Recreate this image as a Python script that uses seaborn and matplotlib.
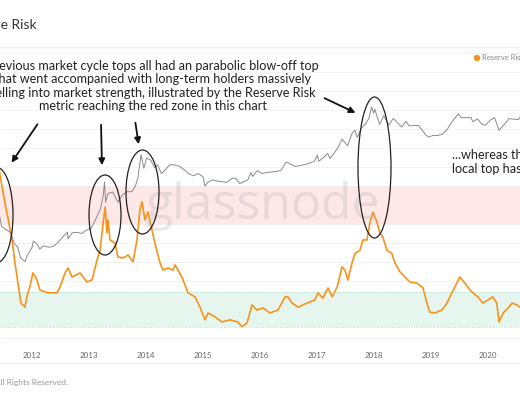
import pandas as pd
import matplotlib
matplotlib.use("Agg")
import matplotlib.pyplot as plt
import seaborn as sns
from matplotlib.patches import Ellipse
from matplotlib.lines import Line2D
import matplotlib.dates as mdates

# BTC price (USD), rough semi-monthly readings
price_dates = [
    "2011-06-08", "2011-06-20", "2011-07-15", "2011-08-01", "2011-08-20", "2011-09-10",
    "2011-10-01", "2011-10-20", "2011-11-18", "2011-12-01", "2011-12-31", "2012-01-10",
    "2012-02-01", "2012-02-20", "2012-03-15", "2012-04-15", "2012-05-15", "2012-06-15",
    "2012-07-15", "2012-08-15", "2012-08-20", "2012-09-15", "2012-10-15", "2012-11-15",
    "2012-12-15", "2013-01-15", "2013-02-15", "2013-03-15", "2013-04-01", "2013-04-10",
    "2013-04-17", "2013-05-01", "2013-06-01", "2013-07-05", "2013-08-01", "2013-09-01",
    "2013-10-01", "2013-10-25", "2013-11-10", "2013-11-30", "2013-12-18", "2014-01-05",
    "2014-02-01", "2014-02-25", "2014-03-15", "2014-04-10", "2014-05-01", "2014-06-01",
    "2014-07-01", "2014-08-01", "2014-09-01", "2014-10-01", "2014-11-01", "2014-12-01",
    "2015-01-01", "2015-01-14", "2015-02-01", "2015-03-01", "2015-04-01", "2015-05-01",
    "2015-06-01", "2015-07-10", "2015-08-01", "2015-08-24", "2015-09-15", "2015-10-15",
    "2015-11-04", "2015-11-15", "2015-12-15", "2016-01-15", "2016-02-15", "2016-03-15",
    "2016-04-15", "2016-05-15", "2016-06-17", "2016-07-15", "2016-08-15", "2016-09-15",
    "2016-10-15", "2016-11-15", "2016-12-15", "2017-01-04", "2017-01-12", "2017-02-15",
    "2017-03-10", "2017-03-25", "2017-04-15", "2017-05-15", "2017-06-10", "2017-07-15",
    "2017-08-15", "2017-09-01", "2017-09-15", "2017-10-15", "2017-11-10", "2017-11-30",
    "2017-12-17", "2017-12-30", "2018-01-06", "2018-02-06", "2018-03-05", "2018-04-06",
    "2018-05-05", "2018-06-28", "2018-07-25", "2018-08-15", "2018-09-15", "2018-10-15",
    "2018-11-25", "2018-12-15", "2019-01-15", "2019-02-15", "2019-03-15", "2019-04-15",
    "2019-05-15", "2019-06-26", "2019-07-15", "2019-08-15", "2019-09-15", "2019-09-26",
    "2019-10-26", "2019-11-25", "2019-12-17", "2020-01-15", "2020-02-13", "2020-03-12",
    "2020-04-15", "2020-05-15", "2020-06-15", "2020-07-15", "2020-07-31",
]
price_usd = [
    30, 17, 14, 13, 11, 6,
    5, 2.6, 2.1, 3, 4.7, 7,
    6, 4.4, 5.3, 4.9, 5.1, 6.4,
    8.8, 12, 8, 11.5, 11.8, 11,
    13.4, 15, 27, 47, 100, 230,
    70, 115, 128, 70, 105, 130,
    130, 180, 300, 1150, 520, 950,
    830, 540, 630, 380, 450, 640,
    630, 590, 480, 380, 330, 380,
    315, 180, 225, 260, 245, 235,
    225, 290, 280, 210, 230, 260,
    400, 320, 450, 380, 405, 415,
    430, 455, 750, 660, 575, 610,
    640, 710, 780, 1130, 780, 1000,
    1250, 930, 1180, 1750, 2900, 1950,
    4200, 4900, 3200, 5700, 7200, 10000,
    19500, 13500, 17000, 6900, 11500, 6600,
    9800, 5900, 8300, 6300, 6500, 6400,
    3900, 3250, 3600, 3600, 3900, 5100,
    8000, 12900, 10200, 10300, 10300, 8100,
    9500, 6900, 6600, 8800, 10300, 4900,
    6800, 9700, 9400, 9200, 11300,
]

# Reserve Risk readings
rr_dates = [
    "2011-06-05", "2011-06-10", "2011-07-12", "2011-07-31", "2011-08-26", "2011-09-14",
    "2011-10-03", "2011-10-22", "2011-11-17", "2011-11-29", "2011-12-18", "2012-01-07",
    "2012-02-02", "2012-02-21", "2012-03-25", "2012-04-26", "2012-06-10", "2012-06-29",
    "2012-07-31", "2012-08-19", "2012-09-14", "2012-11-04", "2012-12-18", "2013-01-20",
    "2013-02-21", "2013-03-13", "2013-04-01", "2013-04-14", "2013-04-26", "2013-05-02",
    "2013-05-15", "2013-06-16", "2013-07-05", "2013-08-07", "2013-09-08", "2013-10-10",
    "2013-11-04", "2013-11-23", "2013-12-06", "2013-12-25", "2014-01-14", "2014-02-08",
    "2014-02-27", "2014-04-01", "2014-04-20", "2014-05-22", "2014-06-23", "2014-07-06",
    "2014-08-19", "2014-09-27", "2014-11-11", "2014-12-13", "2015-01-14", "2015-02-02",
    "2015-03-18", "2015-05-02", "2015-06-23", "2015-08-13", "2015-09-08", "2015-10-10",
    "2015-11-11", "2015-12-13", "2016-01-20", "2016-03-05", "2016-04-26", "2016-06-10",
    "2016-06-29", "2016-07-25", "2016-09-02", "2016-10-29", "2016-12-18", "2017-01-07",
    "2017-02-08", "2017-03-13", "2017-04-08", "2017-05-10", "2017-06-10", "2017-06-29",
    "2017-07-18", "2017-08-13", "2017-09-02", "2017-10-03", "2017-10-22", "2017-11-17",
    "2017-12-06", "2017-12-25", "2018-01-20", "2018-02-08", "2018-02-27", "2018-03-25",
    "2018-04-26", "2018-05-15", "2018-06-16", "2018-07-18", "2018-08-19", "2018-10-03",
    "2018-11-11", "2018-12-06", "2018-12-25", "2019-01-26", "2019-03-13", "2019-04-14",
    "2019-05-15", "2019-06-16", "2019-07-05", "2019-08-07", "2019-09-08", "2019-09-27",
    "2019-10-29", "2019-11-30", "2020-01-01", "2020-02-02", "2020-02-27", "2020-03-13",
    "2020-04-08", "2020-05-10", "2020-06-04", "2020-07-05", "2020-07-24", "2020-07-31",
]
rr_values = [
    0.030, 0.0261, 0.0132, 0.0092, 0.0054, 0.0031,
    0.0019, 0.00117, 0.00106, 0.00136, 0.00173, 0.00243,
    0.00205, 0.00161, 0.00153, 0.00150, 0.00150, 0.00173,
    0.00243, 0.00274, 0.00220, 0.00243, 0.00195, 0.00205,
    0.00333, 0.00424, 0.00816, 0.0120, 0.0064, 0.00877,
    0.0054, 0.0050, 0.00358, 0.00349, 0.00376, 0.00317,
    0.0054, 0.0112, 0.0136, 0.0088, 0.0106, 0.0069,
    0.0050, 0.0031, 0.0026, 0.00274, 0.0026, 0.00295,
    0.0022, 0.0015, 0.00136, 0.00106, 0.00078, 0.00092,
    0.00084, 0.00074, 0.00078, 0.00074, 0.00066, 0.00072,
    0.00112, 0.00099, 0.00104, 0.00092, 0.00099, 0.00136,
    0.00136, 0.00117, 0.00106, 0.00117, 0.00126, 0.00150,
    0.00132, 0.00169, 0.00136, 0.00173, 0.00281, 0.0026,
    0.00205, 0.0031, 0.0039, 0.0042, 0.0054, 0.0054,
    0.0082, 0.0106, 0.0084, 0.0064, 0.0058, 0.0042,
    0.0039, 0.0031, 0.0025, 0.0022, 0.00195, 0.0019,
    0.00169, 0.00117, 0.00094, 0.00092, 0.00099, 0.00117,
    0.0015, 0.0019, 0.0022, 0.0019, 0.00161, 0.0015,
    0.00136, 0.00117, 0.00126, 0.00136, 0.00117, 0.00074,
    0.00092, 0.00104, 0.00117, 0.00112, 0.00106, 0.00108,
]

red_zone = (0.0079, 0.02)
green_zone = (0.00065, 0.00153)
year_ticks = [str(y) for y in range(2012, 2021)]

price_df = pd.DataFrame({"date": pd.to_datetime(price_dates), "price": price_usd})
rr_df = pd.DataFrame({"date": pd.to_datetime(rr_dates), "rr": rr_values})

sns.set_theme(style="white")
plt.rcParams['font.family'] = ['Lato', 'DejaVu Sans']

W, H = 520, 400
fig = plt.figure(figsize=(W / 100, H / 100), dpi=100)


def fx(px):
    return px / W


def fy(py):
    return 1 - py / H


ax = fig.add_axes([0, fy(344), 1, (344 - 50) / H])
ax2 = ax.twinx()

# bands
ax.axhspan(*red_zone, color="#fde7e7", lw=0, zorder=0)
ax.axhspan(*green_zone, color="#e5f6ef", lw=0, zorder=0)
for v in red_zone:
    ax.axhline(v, color="#f0b3b3", lw=0.7, ls=(0, (1, 1.5)), zorder=0.5)
for v in green_zone:
    ax.axhline(v, color="#b5ddd0", lw=0.7, ls=(0, (1, 1.5)), zorder=0.5)

sns.lineplot(data=rr_df, x="date", y="rr", ax=ax, color="#f7931a", lw=1.2, zorder=3)
sns.lineplot(data=price_df, x="date", y="price", ax=ax2, color="#8a8a8a", lw=0.7)

ax.set_yscale("log")
ax2.set_yscale("log")
ax.set_ylim(0.000434, 0.54)
ax2.set_ylim(0.01615, 558000)
ax.set_xlim(pd.Timestamp("2011-06-10"), pd.Timestamp("2020-07-25"))

grid = [0.02 * 10 ** (0.2 * k) for k in range(-8, 8)]
ax.set_yticks(grid)
ax.yaxis.grid(True, color="#f1f1f1", lw=0.6)
ax.set_axisbelow(True)
ax.set_yticklabels([])
ax.tick_params(axis="y", length=0, labelleft=False)
ax2.set_yticks([])
ax2.tick_params(axis="y", length=0, labelright=False)
ax.minorticks_off()

ax.set_xticks(pd.to_datetime([y + "-01-01" for y in year_ticks]))
ax.xaxis.set_major_formatter(mdates.DateFormatter("%Y"))
ax.tick_params(axis="x", length=0, labelsize=5.8, labelcolor="#666666", pad=6)
ax.set_xlabel("")
ax.set_ylabel("")
ax2.set_ylabel("")
for a in (ax, ax2):
    for s in a.spines.values():
        s.set_visible(False)
ax.patch.set_alpha(0)

# watermark
fig.text(fx(262), fy(206), "glassnode", fontsize=36, color="#b0b0b0", alpha=0.28,
         ha="center", va="center", family=["Open Sans", "DejaVu Sans"], zorder=0.2)

# header / footer
fig.text(fx(37), fy(25), "Reserve Risk", fontsize=10, color="#333333", ha="right", va="center")
fig.add_artist(Line2D([0, 1], [fy(47), fy(47)], color="#eeeeee", lw=0.8))
fig.add_artist(Line2D([0, 1], [fy(363), fy(363)], color="#eeeeee", lw=0.8))
fig.text(fx(68), fy(382), "© 2020 Glassnode. All Rights Reserved.", fontsize=6,
         color="#999999", ha="right", va="center")

# legend
fig.add_artist(Ellipse((fx(477), fy(58)), 5 / W, 5 / H, color="#f7931a",
                       transform=fig.transFigure))
fig.text(fx(482), fy(58), "Reserve Risk", fontsize=5.5, color="#888888", ha="left", va="center")

# annotation text
note = ("Previous market cycle tops all had an parabolic blow-off top\n"
        "that went accompanied with long-term holders massively\n"
        "selling into market strength, illustrated by the Reserve Risk\n"
        "metric reaching the red zone in this chart")
fig.text(fx(153), fy(86), note, fontsize=9.1, color="#222222", ha="center", va="center",
         linespacing=1.12)
fig.text(fx(452), fy(162), "...whereas the current\nlocal top has not", fontsize=9.1,
         color="#222222", ha="left", va="center", linespacing=1.12)

# ellipses around tops
for cx, cy, w, h in [(-3, 215, 32, 95), (105, 215, 32, 80), (142.5, 192, 33, 84),
                     (374.5, 167.5, 33, 141)]:
    fig.add_artist(Ellipse((fx(cx), fy(cy)), w / W, h / H, fill=False, ec="#222222",
                           lw=0.9, transform=fig.transFigure))

# arrows
for (x0, y0), (x1, y1) in [((39, 122), (10, 165)), ((101, 122), (102, 168)),
                           ((135, 120), (139, 147)), ((322, 97), (358, 114))]:
    fig.add_artist(matplotlib.patches.FancyArrowPatch(
        (fx(x0), fy(y0)), (fx(x1), fy(y1)), transform=fig.transFigure,
        arrowstyle="-|>", mutation_scale=9, color="#111111", lw=1.3))

fig.savefig("out.png", dpi=100)
